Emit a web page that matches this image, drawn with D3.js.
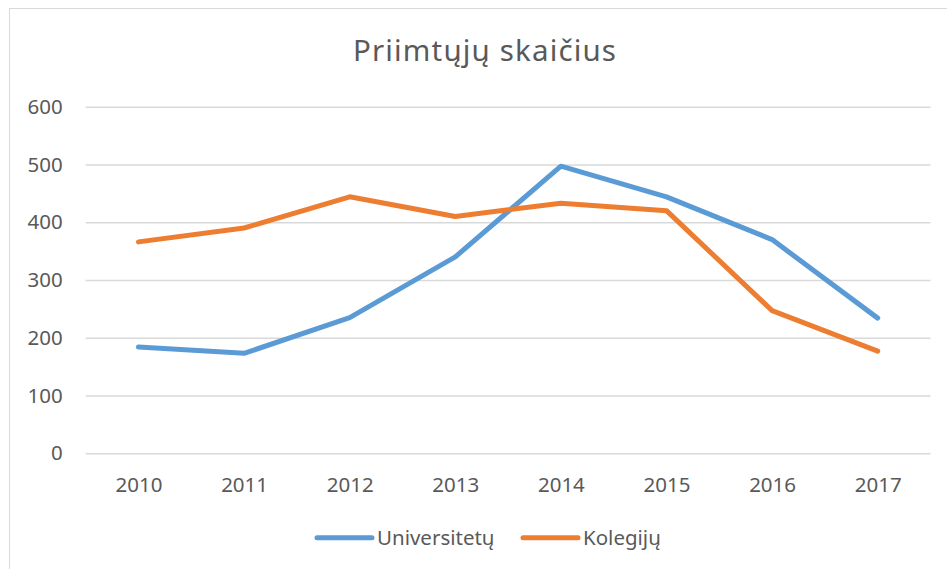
<!DOCTYPE html>
<html>
<head>
<meta charset="utf-8">
<script src="https://cdn.jsdelivr.net/npm/d3@7"></script>
<style>
  html, body { margin: 0; padding: 0; background: #fff; }
  svg { display: block; }
  text { font-family: "Noto Sans", sans-serif; fill: #595959; }
</style>
</head>
<body>
<svg id="chart" width="947" height="569"></svg>
<script>
const years = ["2010", "2011", "2012", "2013", "2014", "2015", "2016", "2017"];
const universitetu = [184, 173, 235, 340, 497, 444, 370, 234];
const kolegiju = [366, 390, 444, 410, 433, 420, 247, 177];
const yTicks = [0, 100, 200, 300, 400, 500, 600];
const titleText = "Priimtųjų skaičius";
const seriesNames = ["Universitetų", "Kolegijų"];
const colors = ["#5B9BD5", "#ED7D31"];

const svg = d3.select("#chart");

// chart area border
svg.append("rect")
  .attr("x", 9.5).attr("y", 8.5)
  .attr("width", 960).attr("height", 600)
  .attr("fill", "none").attr("stroke", "#D9D9D9").attr("stroke-width", 1);

const x = d3.scalePoint().domain(years).range([85.7, 930.5]).padding(0.5);
const y = d3.scaleLinear().domain([0, 600]).range([453.3, 106.7]);

// gridlines + y labels
const yAxis = d3.axisLeft(y).tickValues(yTicks).tickSize(-(930.5 - 85.7)).tickPadding(23);
const gy = svg.append("g").attr("transform", "translate(85.7,0)").call(yAxis);
gy.select(".domain").remove();
gy.selectAll(".tick line").attr("stroke", "#D9D9D9").attr("stroke-width", 1.5);
gy.selectAll(".tick text").attr("font-size", "20.5px").attr("fill", "#595959")
  .style("font-family", '"Noto Sans", sans-serif');

// x axis labels
const xAxis = d3.axisBottom(x).tickSize(0).tickPadding(24);
const gx = svg.append("g").attr("transform", "translate(0,453.3)").call(xAxis);
gx.select(".domain").remove();
gx.selectAll(".tick text").attr("font-size", "20.5px").attr("fill", "#595959")
  .style("font-family", '"Noto Sans", sans-serif');

// lines
const line = d3.line().x((d, i) => x(years[i])).y(d => y(d));
[universitetu, kolegiju].forEach((s, k) => {
  svg.append("path")
    .datum(s)
    .attr("d", line)
    .attr("fill", "none")
    .attr("stroke", colors[k])
    .attr("stroke-width", 5)
    .attr("stroke-linejoin", "round")
    .attr("stroke-linecap", "round");
});

// title
svg.append("text")
  .attr("x", 484.5).attr("y", 61)
  .attr("text-anchor", "middle")
  .attr("font-size", "29.5px")
  .attr("textLength", 263)
  .attr("lengthAdjust", "spacing")
  .text(titleText);

// legend
const legendX = [317, 523];
seriesNames.forEach((name, k) => {
  svg.append("line")
    .attr("x1", legendX[k]).attr("x2", legendX[k] + 55)
    .attr("y1", 537.7).attr("y2", 537.7)
    .attr("stroke", colors[k]).attr("stroke-width", 5)
    .attr("stroke-linecap", "round");
  svg.append("text")
    .attr("x", legendX[k] + 60).attr("y", 545)
    .attr("font-size", "20.5px")
    .text(name);
});
</script>
</body>
</html>
